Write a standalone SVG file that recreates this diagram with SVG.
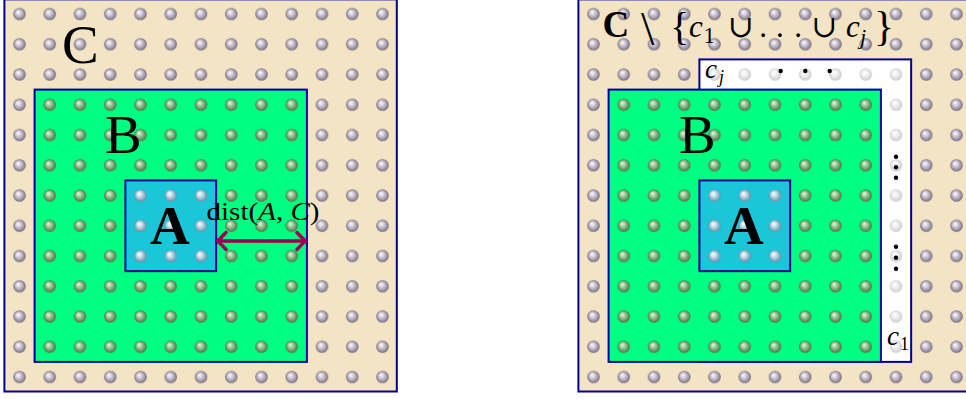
<svg xmlns="http://www.w3.org/2000/svg" width="966" height="399" viewBox="0 0 966 399">
<style>
.frame{fill:#f3e4c6;stroke:#00009a;stroke-width:2}
.regB{fill:#00ff80;stroke:#00009a;stroke-width:2}
.regA{fill:#1ac6d8;stroke:#00009a;stroke-width:2}
.regW{fill:#ffffff;stroke:#00009a;stroke-width:2}
.big{font-family:"Liberation Serif",serif;font-size:55px;fill:#000}
.math{font-family:"Liberation Serif","DejaVu Serif",serif;fill:#000}
.it{font-style:italic}
.bd{font-weight:bold}
.blk{fill:#000}
.arrow{fill:none;stroke:#99004f;stroke-width:3.5;stroke-linecap:round;stroke-linejoin:round}
</style>
<defs>
<radialGradient id="gC" cx="0.5" cy="0.5" r="0.5" fx="0.36" fy="0.32">
<stop offset="0" stop-color="#ffffff"/><stop offset="0.3" stop-color="#e2dae4"/><stop offset="0.75" stop-color="#a29aaa"/><stop offset="1" stop-color="#6c6676"/>
</radialGradient>
<radialGradient id="gB" cx="0.5" cy="0.5" r="0.5" fx="0.36" fy="0.32">
<stop offset="0" stop-color="#eaffea"/><stop offset="0.3" stop-color="#b2daae"/><stop offset="0.75" stop-color="#6c986a"/><stop offset="1" stop-color="#4c724c"/>
</radialGradient>
<radialGradient id="gA" cx="0.5" cy="0.5" r="0.5" fx="0.36" fy="0.32">
<stop offset="0" stop-color="#ffffff"/><stop offset="0.3" stop-color="#d4ecf8"/><stop offset="0.75" stop-color="#90b2c6"/><stop offset="1" stop-color="#6a8ca0"/>
</radialGradient>
<radialGradient id="gW" cx="0.5" cy="0.5" r="0.5" fx="0.36" fy="0.32">
<stop offset="0" stop-color="#ffffff"/><stop offset="0.4" stop-color="#f3f3f3"/><stop offset="0.8" stop-color="#dadada"/><stop offset="1" stop-color="#c9c9c9"/>
</radialGradient>
<pattern id="pC" patternUnits="userSpaceOnUse" x="4.375" y="-1.125" width="30.25" height="30.25"><circle cx="15.125" cy="15.125" r="6.2" fill="url(#gC)"/></pattern>
<pattern id="pB" patternUnits="userSpaceOnUse" x="4.375" y="-1.125" width="30.25" height="30.25"><circle cx="15.125" cy="15.125" r="6.2" fill="url(#gB)"/></pattern>
<pattern id="pA" patternUnits="userSpaceOnUse" x="4.375" y="-1.125" width="30.25" height="30.25"><circle cx="15.125" cy="15.125" r="6.2" fill="url(#gA)"/></pattern>
<pattern id="pW" patternUnits="userSpaceOnUse" x="4.375" y="-1.125" width="30.25" height="30.25"><circle cx="15.125" cy="15.125" r="6.2" fill="url(#gW)"/></pattern>
</defs>

<g id="left-panel">
  <g id="left-C">
    <rect class="frame" x="4.4" y="-0.6" width="392.4" height="392.1"/>
    <rect x="4.4" y="-1.1" width="392.4" height="392.6" fill="url(#pC)"/>
    <text class="big" x="62" y="63">C</text>
  </g>
  <g id="left-B">
    <rect class="regB" x="34.6" y="89.6" width="272.3" height="272.3"/>
    <rect x="34.6" y="89.6" width="272.3" height="272.3" fill="url(#pB)"/>
    <text class="big" x="105" y="153.3">B</text>
  </g>
  <g id="left-A">
    <rect class="regA" x="125.4" y="180.4" width="90.75" height="90.75"/>
    <rect x="125.4" y="180.4" width="90.75" height="90.75" fill="url(#pA)"/>
    <text class="big bd" x="150" y="244">A</text>
  </g>
  <g id="connectors">
    <path class="arrow" d="M217.5,241 H305.5"/>
    <path class="arrow" d="M226,232.5 Q220,239 217.5,241 Q220,243 226,249.5"/>
    <path class="arrow" d="M297,232.5 Q303,239 305.5,241 Q303,243 297,249.5"/>
    <text class="math" x="206.5" y="220" font-size="25" textLength="113" lengthAdjust="spacingAndGlyphs">dist(<tspan class="it">A</tspan>, <tspan class="it">C</tspan>)</text>
  </g>
</g>

<g id="right-panel" transform="translate(574,0)">
  <g id="right-C">
    <rect class="frame" x="4.4" y="-0.6" width="420" height="392.1"/>
    <rect x="4.4" y="-1.1" width="420" height="392.6" fill="url(#pC)"/>
    <text class="math bd" x="28.5" y="37.3" font-size="37">C</text>
    <text class="math" x="67" y="45" font-size="48">\</text>
    <text class="math" x="96" y="40" font-size="40">{</text>
    <text class="math" y="37.3" font-size="31"><tspan class="it" x="115">c</tspan><tspan x="129.5" y="42.7" font-size="23">1</tspan></text>
    <text class="math" x="154" y="37" font-size="31">∪</text>
    <text class="math" y="37.3" font-size="31"><tspan x="185.3">.</tspan><tspan x="202">.</tspan><tspan x="220.3">.</tspan></text>
    <text class="math" x="237.5" y="37" font-size="31">∪</text>
    <text class="math" y="37.3" font-size="31"><tspan class="it" x="272">c</tspan><tspan class="it" x="286" y="44" font-size="22">j</tspan></text>
    <text class="math" x="300" y="40" font-size="42">}</text>
  </g>
  <g id="right-strip">
    <rect class="regW" x="125.4" y="59.4" width="211.75" height="302.5"/>
    <rect x="125.4" y="59.4" width="211.75" height="302.5" fill="url(#pW)"/>
    <text class="math it" x="131" y="78" font-size="27">c<tspan x="145" y="83" font-size="18">j</tspan></text>
    <circle class="blk" cx="206.7" cy="71" r="2.2"/>
    <circle class="blk" cx="231.3" cy="71" r="2.2"/>
    <circle class="blk" cx="255.7" cy="71" r="2.2"/>
    <circle class="blk" cx="322" cy="156.7" r="2.2"/>
    <circle class="blk" cx="322" cy="167.3" r="2.2"/>
    <circle class="blk" cx="322" cy="177.7" r="2.2"/>
    <circle class="blk" cx="322" cy="246.7" r="2.2"/>
    <circle class="blk" cx="322" cy="257.7" r="2.2"/>
    <circle class="blk" cx="322" cy="268.7" r="2.2"/>
    <text class="math" x="313" y="345" font-size="27"><tspan class="it">c</tspan><tspan x="326" y="350" font-size="18">1</tspan></text>
  </g>
  <g id="right-B">
    <rect class="regB" x="34.6" y="89.6" width="272.3" height="272.3"/>
    <rect x="34.6" y="89.6" width="272.3" height="272.3" fill="url(#pB)"/>
    <text class="big" x="105" y="153.3">B</text>
  </g>
  <g id="right-A">
    <rect class="regA" x="125.4" y="180.4" width="90.75" height="90.75"/>
    <rect x="125.4" y="180.4" width="90.75" height="90.75" fill="url(#pA)"/>
    <text class="big bd" x="150" y="244">A</text>
  </g>
</g>
</svg>
